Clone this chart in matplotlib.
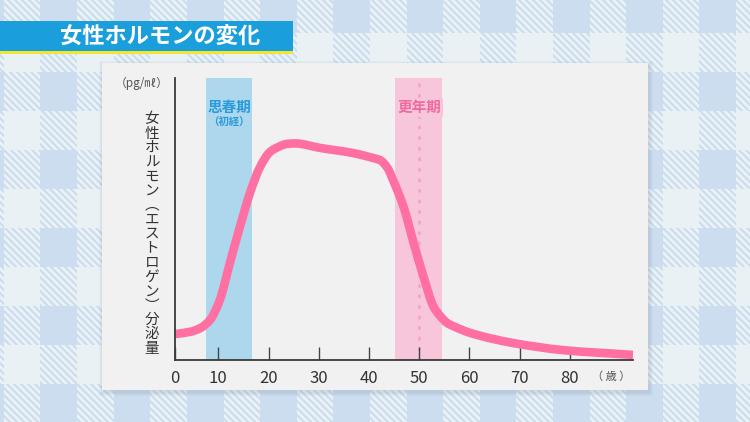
import numpy as np
import matplotlib
matplotlib.use("Agg")
import matplotlib.pyplot as plt
from matplotlib.patches import Rectangle, PathPatch
from matplotlib.path import Path

plt.rcParams['font.family'] = ['Noto Sans CJK JP', 'DejaVu Sans']

# ---- data ----
title = "女性ホルモンの変化"
y_label_chars = list("女性ホルモン︵エストロゲン︶分泌量")
unit_label = "（pg/㎖）"
x_unit_label = "（ 歳 ）"
x_ticks = [1.37, 10, 20, 30, 40, 50, 60, 70, 80]
x_tick_labels = ["0", "10", "20", "30", "40", "50", "60", "70", "80"]
ages = [1.37, 4.4, 6.4, 8.35, 10.3, 12.3, 14.3, 16.3, 18.3, 20.3, 21.9, 23.6,
        25.3, 30.3, 36.8, 40.9, 42.2, 43.7, 44.8, 46.9, 48.9, 50.9, 52.9,
        54.2, 55.6, 57.2, 60.2, 68.8, 78.7, 92.6]
estrogen = [9.2, 10.0, 11.3, 14.2, 21.3, 34.4, 47.2, 59.2, 68.4, 73.8, 75.5,
            76.6, 76.8, 75.2, 73.4, 71.6, 70.9, 68.1, 63.8, 54.3, 41.5, 29.4,
            18.8, 15.6, 13.1, 11.7, 9.6, 6.0, 3.5, 1.8]
puberty = (7.6, 16.8)
menopause = (45.2, 54.6)
menopause_mid = 50
x_lim = (1.37, 92.6)
y_lim = (0, 100)

W, H = 750, 422
fig = plt.figure(figsize=(7.5, 4.22), dpi=100)

# ---- gingham background (decoration) ----
yy, xx = np.mgrid[0:H, 0:W]
col_on = ((xx - 40) % 73.2) < 36.6
row_on = ((yy + 6) % 78) < 39
stripe = ((xx - yy) % 7) < 2.6
base = np.array([0.915, 0.948, 0.958])
blue = np.array([0.80, 0.868, 0.94])
img = np.empty((H, W, 3))
img[:] = base
img[(col_on ^ row_on) & stripe] = blue
img[col_on & row_on] = blue
bg = fig.add_axes([0, 0, 1, 1])
bg.imshow(img, extent=(0, W, H, 0), aspect='auto', interpolation='nearest')
bg.set_xlim(0, W)
bg.set_ylim(H, 0)
bg.axis('off')

# panel with shadow
for i in range(4):
    d = 4 - i
    bg.add_patch(Rectangle((102 - d + 1, 63 - d + 2), 546 + 2 * d, 327 + 2 * d,
                           facecolor='#6f8296', alpha=0.05, edgecolor='none'))
bg.add_patch(Rectangle((102, 63), 546, 327, facecolor='#f1f1f1', edgecolor='none'))

# title bar
bg.add_patch(Rectangle((0, 21), 293, 30, facecolor='#1b9fdc', edgecolor='none'))
bg.add_patch(Rectangle((0, 51), 293, 2.5, facecolor='#f3e42c', edgecolor='none'))
bg.text(160, 37.5, title, color='white', fontsize=16, fontweight='bold',
        ha='center', va='center')

# ---- main axes ----
ax = fig.add_axes([175 / W, 1 - 360 / H, (633 - 175) / W, (360 - 78) / H])
ax.set_facecolor('none')
ax.set_xlim(*x_lim)
ax.set_ylim(*y_lim)

ax.axvspan(*puberty, color='#acd7ed', lw=0, zorder=1)
ax.axvspan(*menopause, color='#f7c6da', lw=0, zorder=1)
ax.axvline(menopause_mid, color='#f4a3c5', lw=2.0, ls=(0, (0.5, 3.3)),
           dash_capstyle='round', zorder=1.5)

# smooth monotone (Fritsch-Carlson) Bezier path through the read points
x = np.asarray(ages, float)
y = np.asarray(estrogen, float)
h = np.diff(x)
dlt = np.diff(y) / h
m = np.zeros_like(x)
for k in range(1, len(x) - 1):
    if dlt[k - 1] * dlt[k] <= 0:
        m[k] = 0.0
    else:
        w1 = 2 * h[k] + h[k - 1]
        w2 = h[k] + 2 * h[k - 1]
        m[k] = (w1 + w2) / (w1 / dlt[k - 1] + w2 / dlt[k])
m[0] = dlt[0]
m[-1] = dlt[-1]
verts = [(x[0], y[0])]
codes = [Path.MOVETO]
for k in range(len(x) - 1):
    verts += [(x[k] + h[k] / 3, y[k] + m[k] * h[k] / 3),
              (x[k + 1] - h[k] / 3, y[k + 1] - m[k + 1] * h[k] / 3),
              (x[k + 1], y[k + 1])]
    codes += [Path.CURVE4] * 3
ax.add_patch(PathPatch(Path(verts, codes), facecolor='none', edgecolor='#ff6fa2',
                       lw=6.2, joinstyle='round', capstyle='butt', zorder=3))

for s in ['top', 'right']:
    ax.spines[s].set_visible(False)
for s in ['left', 'bottom']:
    ax.spines[s].set_color('#3a3a3a')
    ax.spines[s].set_linewidth(1.3)
    ax.spines[s].set_zorder(4)

ax.set_yticks([])
ax.set_xticks(x_ticks)
ax.set_xticklabels(x_tick_labels, fontsize=12, color='#333333')
ax.tick_params(axis='x', direction='in', length=9.5, width=1.0, color='#444444',
               pad=7)

ax.text(sum(puberty) / 2, 89.7, "思春期", color='#2a9bd9', fontsize=10.5,
        fontweight='bold', ha='center', va='center', zorder=5)
ax.text(sum(puberty) / 2, 84.3, "（初経）", color='#2a9bd9', fontsize=7.5,
        fontweight='bold', ha='center', va='center', zorder=5)
ax.text(menopause_mid, 89.7, "更年期", color='#f06ba0', fontsize=10.5,
        fontweight='bold', ha='center', va='center', zorder=5,
        bbox=dict(facecolor='#f7c6da', edgecolor='none', pad=1.0))

# axis labels in figure pixel coords
bg.text(142, 83, unit_label, color='#555555', fontsize=8.5, ha='center', va='center')
bg.text(152, 234, "\n".join(y_label_chars), color='#333333', fontsize=10.5,
        ha='center', va='center', linespacing=1.03)
bg.text(611, 377, x_unit_label, color='#555555', fontsize=8, ha='center',
        va='center')

fig.savefig("out.png", dpi=100)
